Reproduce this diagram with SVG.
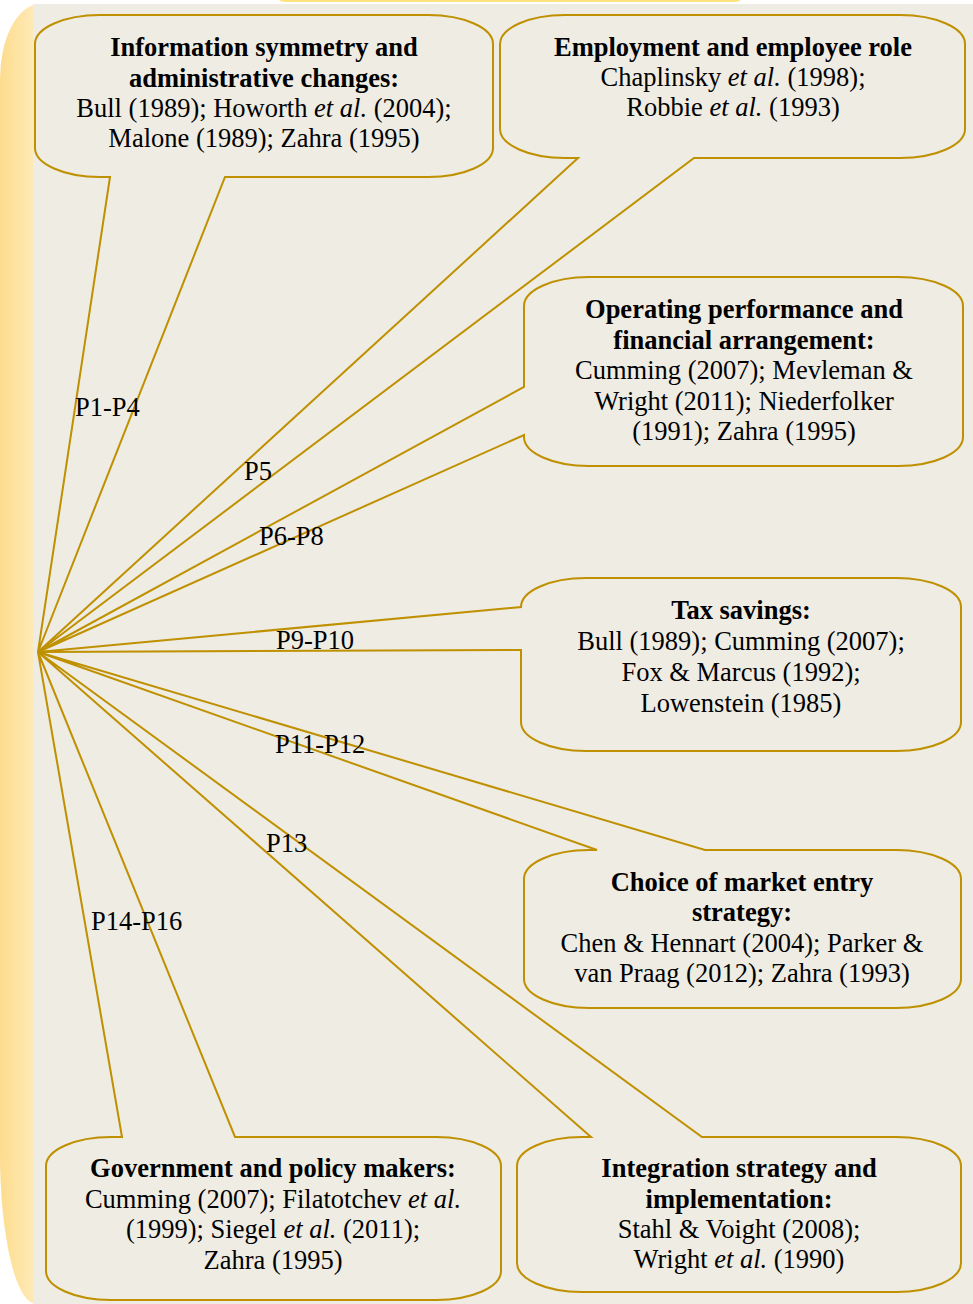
<svg xmlns="http://www.w3.org/2000/svg" width="973" height="1304" viewBox="0 0 973 1304">
<defs>
<linearGradient id="side" x1="0" y1="0" x2="1" y2="0">
<stop offset="0" stop-color="#fddc8e"/>
<stop offset="1" stop-color="#fff5d6"/>
</linearGradient>
<style>
.co{fill:#efece4;stroke:#bf9000;stroke-width:2;stroke-linejoin:miter}
text{font-family:"Liberation Serif","Times New Roman",serif;font-size:26.5px;fill:#000}
.t{text-anchor:middle}
.b{font-weight:bold}
.i{font-style:italic}
</style>
</defs>
<rect x="0" y="0" width="973" height="1304" fill="#ffffff"/>
<rect x="278" y="-10" width="464" height="12" rx="6" fill="#fde47f"/>
<path d="M 40 4 A 40 75 0 0 0 0 79 V 1154 A 36 150 0 0 0 36 1304 H 60 V 4 Z" fill="url(#side)"/>
<rect x="33" y="4" width="940" height="1300" fill="#efece4"/>

<g id="info-symmetry">
<path class="co" d="M 100 15 H 428 A 65 29 0 0 1 493 44 V 148 A 65 29 0 0 1 428 177 H 225 L 38 652 L 110 177 H 100 A 65 29 0 0 1 35 148 V 44 A 65 29 0 0 1 100 15 Z"/>
<text class="t b" x="264" y="56">Information symmetry and</text>
<text class="t b" x="264" y="86.5">administrative changes:</text>
<text class="t" x="264" y="117">Bull (1989); Howorth <tspan class="i">et al.</tspan> (2004);</text>
<text class="t" x="264" y="147">Malone (1989); Zahra (1995)</text>
</g>

<g id="employment">
<path class="co" d="M 565 15 H 900 A 65 29 0 0 1 965 44 V 129 A 65 29 0 0 1 900 158 H 694 L 38 652 L 578 158 H 565 A 65 29 0 0 1 500 129 V 44 A 65 29 0 0 1 565 15 Z"/>
<text class="t b" x="733" y="56">Employment and employee role</text>
<text class="t" x="733" y="86">Chaplinsky <tspan class="i">et al.</tspan> (1998);</text>
<text class="t" x="733" y="116">Robbie <tspan class="i">et al.</tspan> (1993)</text>
</g>

<g id="operating">
<path class="co" d="M 589 277 H 898 A 65 29 0 0 1 963 306 V 437 A 65 29 0 0 1 898 466 H 589 A 65 29 0 0 1 524 437 V 435 L 38 652 L 524 387 V 306 A 65 29 0 0 1 589 277 Z"/>
<text class="t b" x="744" y="318">Operating performance and</text>
<text class="t b" x="744" y="348.5">financial arrangement:</text>
<text class="t" x="744" y="379">Cumming (2007); Mevleman &amp;</text>
<text class="t" x="744" y="409.5">Wright (2011); Niederfolker</text>
<text class="t" x="744" y="440">(1991); Zahra (1995)</text>
</g>

<g id="tax">
<path class="co" d="M 586 578 H 896 A 65 29 0 0 1 961 607 V 722 A 65 29 0 0 1 896 751 H 586 A 65 29 0 0 1 521 722 V 650 L 38 652 L 521 607 A 65 29 0 0 1 586 578 Z"/>
<text class="t b" x="741" y="619">Tax savings:</text>
<text class="t" x="741" y="650">Bull (1989); Cumming (2007);</text>
<text class="t" x="741" y="681">Fox &amp; Marcus (1992);</text>
<text class="t" x="741" y="712">Lowenstein (1985)</text>
</g>

<g id="market-entry">
<path class="co" d="M 589 850 H 597 L 38 652 L 705 850 H 896 A 65 29 0 0 1 961 879 V 979 A 65 29 0 0 1 896 1008 H 589 A 65 29 0 0 1 524 979 V 879 A 65 29 0 0 1 589 850 Z"/>
<text class="t b" x="742" y="891">Choice of market entry</text>
<text class="t b" x="742" y="921">strategy:</text>
<text class="t" x="742" y="952">Chen &amp; Hennart (2004); Parker &amp;</text>
<text class="t" x="742" y="982">van Praag (2012); Zahra (1993)</text>
</g>

<g id="integration">
<path class="co" d="M 582 1137 H 591 L 38 652 L 702 1137 H 896 A 65 29 0 0 1 961 1166 V 1263 A 65 29 0 0 1 896 1292 H 582 A 65 29 0 0 1 517 1263 V 1166 A 65 29 0 0 1 582 1137 Z"/>
<text class="t b" x="739" y="1177">Integration strategy and</text>
<text class="t b" x="739" y="1208">implementation:</text>
<text class="t" x="739" y="1238">Stahl &amp; Voight (2008);</text>
<text class="t" x="739" y="1268">Wright <tspan class="i">et al.</tspan> (1990)</text>
</g>

<g id="government">
<path class="co" d="M 111 1137 H 122 L 38 652 L 235 1137 H 436 A 65 29 0 0 1 501 1166 V 1271 A 65 29 0 0 1 436 1300 H 111 A 65 29 0 0 1 46 1271 V 1166 A 65 29 0 0 1 111 1137 Z"/>
<text class="t b" x="273" y="1177">Government and policy makers:</text>
<text class="t" x="273" y="1208">Cumming (2007); Filatotchev <tspan class="i">et al.</tspan></text>
<text class="t" x="273" y="1238">(1999); Siegel <tspan class="i">et al.</tspan> (2011);</text>
<text class="t" x="273" y="1269">Zahra (1995)</text>
</g>

<g id="connectors">
<text x="75" y="416">P1-P4</text>
<text x="244" y="480">P5</text>
<text x="259" y="545">P6-P8</text>
<text x="276" y="649">P9-P10</text>
<text x="275" y="753">P11-P12</text>
<text x="266" y="852">P13</text>
<text x="91" y="930">P14-P16</text>
</g>
</svg>
